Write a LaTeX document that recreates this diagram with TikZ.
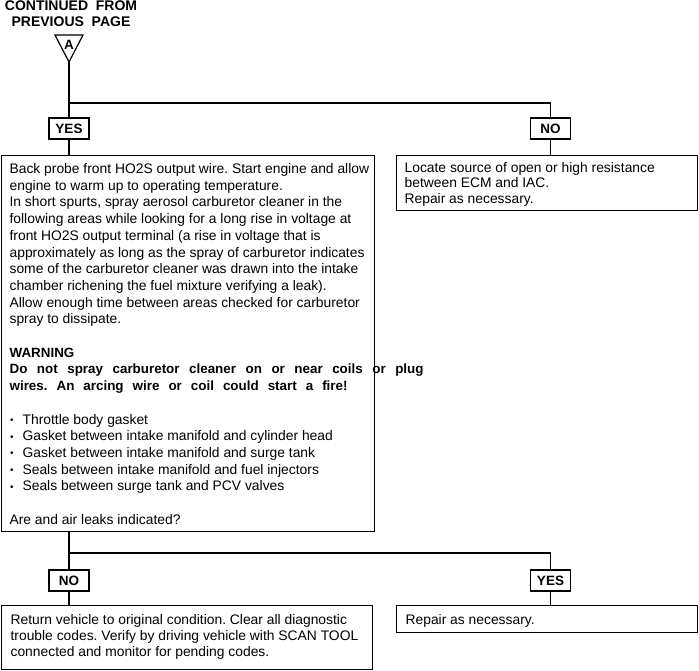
\documentclass[tikz,border=0pt]{standalone}
\usepackage{fontspec}
\setmainfont{Liberation Sans}
\frenchspacing
\newcommand\lblfont{\fontsize{13.5}{13.5}\selectfont\bfseries}
\newcommand\warnfont{\fontsize{13.4}{16.7}\selectfont\bfseries}
\newcommand\tinybullet{\makebox[13pt][l]{\hspace{0.5pt}{\fontsize{10}{10}\selectfont\raisebox{0.5pt}{•}}}}
% width, height, top gap, left gap, baselineskip, text
\newcommand\btxt[6]{\parbox[c][#2][t]{#1}{\fontsize{13.85}{#5}\selectfont\frenchspacing\leftskip=#4\rightskip=0pt plus 1fil\parindent=0pt\parfillskip=0pt plus 1fil\vspace*{#3}\strut #6\par}}
\begin{document}
\begin{tikzpicture}[x=1pt,y=-1pt,
  box/.style={draw, line width=1.2pt, inner sep=0pt, anchor=north west},
  lbl/.style={draw, line width=1.2pt, inner sep=0pt, minimum width=40pt, minimum height=21pt, font=\lblfont, fill=white},
  wire/.style={line width=1.2pt},
  ttl/.style={inner sep=0pt, anchor=base, font=\fontsize{14}{16.7}\selectfont\bfseries}]
\useasboundingbox (0,0) rectangle (699,670);

% title
\node[ttl] (title1) at (71,10) {CONTINUED\ \ FROM};
\node[ttl] (title2) at (71,26.7) {PREVIOUS\ \ PAGE};

% off-page connector triangle
\coordinate (tl) at (55,35);
\coordinate (tr) at (83,35);
\coordinate (apex) at (69,62);
\draw[wire, fill=white, line join=miter] (tl) -- (tr) -- (apex) -- cycle;
\node[inner sep=0pt, font=\fontsize{13.5}{13.5}\selectfont\bfseries] (A) at (69,44.5) {A};

% boxes
\node[box] (main) at (1,155) {\btxt{373pt}{376pt}{6.3pt}{8pt}{16.7pt}{%
Back probe front HO2S output wire. Start engine and allow\\
engine to warm up to operating temperature.\\
In short spurts, spray aerosol carburetor cleaner in the\\
following areas while looking for a long rise in voltage at\\
front HO2S output terminal (a rise in voltage that is\\
approximately as long as the spray of carburetor indicates\\
some of the carburetor cleaner was drawn into the intake\\
chamber richening the fuel mixture verifying a leak).\\
Allow enough time between areas checked for carburetor\\
spray to dissipate.\\[16.7pt]
{\warnfont WARNING}\\
{\warnfont\makebox[414pt][s]{Do not spray carburetor cleaner on or near coils or plug}}\\
{\warnfont\makebox[338pt][s]{wires. An arcing wire or coil could start a fire!}}\\[16.7pt]
\tinybullet Throttle body gasket\\
\tinybullet Gasket between intake manifold and cylinder head\\
\tinybullet Gasket between intake manifold and surge tank\\
\tinybullet Seals between intake manifold and fuel injectors\\
\tinybullet Seals between surge tank and PCV valves\\[16.7pt]
Are and air leaks indicated?}};

\node[box] (noR) at (396,155) {\btxt{301pt}{55pt}{6.3pt}{8pt}{15.3pt}{%
Locate source of open or high resistance\\
between ECM and IAC.\\
Repair as necessary.}};

\node[box] (bl) at (1,605) {\btxt{371pt}{64pt}{7.3pt}{9pt}{16pt}{%
Return vehicle to original condition. Clear all diagnostic\\
trouble codes. Verify by driving vehicle with SCAN TOOL\\
connected and monitor for pending codes.}};

\node[box] (br) at (396,605) {\btxt{301pt}{27pt}{7.3pt}{9pt}{16pt}{%
Repair as necessary.}};

% labels
\node[lbl] (yes1) at (69,128.5) {YES};
\node[lbl] (no1) at (550.5,128.5) {NO};
\node[lbl] (no2) at (69,580.5) {NO};
\node[lbl] (yes2) at (550.5,580.5) {YES};

% connectors
\coordinate (j1) at (69,103);
\coordinate (j2) at (69,553);
\draw[wire] (apex) -- (yes1.north);
\draw[wire] (j1) -| (no1.north);
\draw[wire] (yes1.south) -- (yes1.south |- main.north);
\draw[wire] (no1.south) -- (no1.south |- noR.north);
\draw[wire] (yes1 |- main.south) -- (no2.north);
\draw[wire] (j2) -| (yes2.north);
\draw[wire] (no2.south) -- (no2.south |- bl.north);
\draw[wire] (yes2.south) -- (yes2.south |- br.north);
\end{tikzpicture}
\end{document}
